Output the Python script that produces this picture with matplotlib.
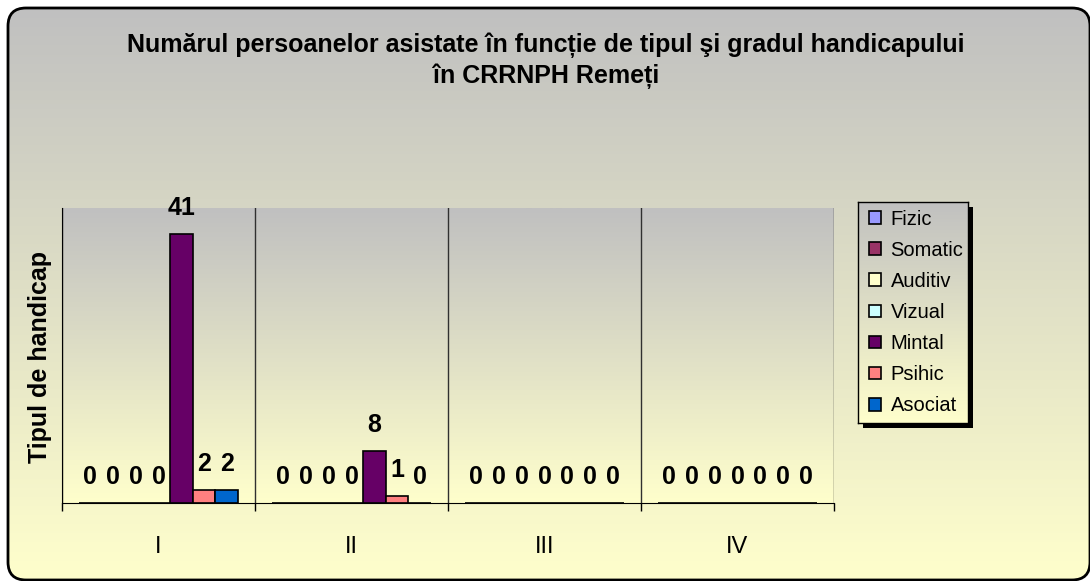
import numpy as np
import matplotlib
matplotlib.use("Agg")
import matplotlib.pyplot as plt
from matplotlib.patches import FancyBboxPatch, Rectangle, Patch

plt.rcParams["font.family"] = ["Liberation Sans", "DejaVu Sans"]

categories = ["I", "II", "III", "IV"]
series_names = ["Fizic", "Somatic", "Auditiv", "Vizual", "Mintal", "Psihic", "Asociat"]
fizic = [0, 0, 0, 0]
somatic = [0, 0, 0, 0]
auditiv = [0, 0, 0, 0]
vizual = [0, 0, 0, 0]
mintal = [41, 8, 0, 0]
psihic = [2, 1, 0, 0]
asociat = [2, 0, 0, 0]
series_colors = ["#9999FF", "#993366", "#FFFFCC", "#CCFFFF", "#660066", "#FF8080", "#0066CC"]

title_1 = "Numărul persoanelor asistate în funcție de tipul şi gradul handicapului"
title_2 = "în CRRNPH Remeți"
y_label = "Tipul de handicap"

W, H = 1090, 581


def gradient(top=(192, 192, 192), bottom=(255, 255, 204), n=256):
    t = np.linspace(0, 1, n)[:, None, None]
    top = np.array(top)[None, None, :] / 255
    bottom = np.array(bottom)[None, None, :] / 255
    return top + (bottom - top) * t


fig = plt.figure(figsize=(W / 100, H / 100), dpi=100)
fig.patch.set_facecolor("white")

# background with rounded border
bg = fig.add_axes([0, 0, 1, 1])
bg.set_xlim(0, W)
bg.set_ylim(H, 0)
bg.axis("off")
box = FancyBboxPatch((8, 8), 1082, 572, boxstyle="round,pad=0,rounding_size=18",
                     facecolor="none", edgecolor="black", linewidth=2, zorder=3)
bg.add_patch(box)
img = bg.imshow(gradient(), extent=[8, 1090, 580, 8], aspect="auto", zorder=1)
img.set_clip_path(box)
# legend shadow
bg.add_patch(Rectangle((863, 207), 110, 221, facecolor="black", edgecolor="none", zorder=2))

# main plot area
ax = fig.add_axes([62 / W, 1 - 503 / H, (834 - 62) / W, (503 - 208) / H])
ax.patch.set_alpha(0)
ax.imshow(gradient(), extent=[-0.5, 3.5, 0, 45], aspect="auto", zorder=0)

values = [fizic, somatic, auditiv, vizual, mintal, psihic, asociat]
n = len(series_names)
w = 1 / (n + 1.5)
x = np.arange(len(categories))
for i, (name, vals, col) in enumerate(zip(series_names, values, series_colors)):
    xs = x + (i - (n - 1) / 2) * w
    ax.bar(xs, vals, width=w, color=col, edgecolor="black", linewidth=1.2, zorder=3, label=name)
    for xi, v in zip(xs, vals):
        ax.annotate(str(v), (xi, v), xytext=(0, 26), textcoords="offset pixels",
                    ha="center", va="center", fontsize=18, fontweight="bold", zorder=4)

ax.set_xlim(-0.5, 3.5)
ax.set_ylim(0, 45)
ax.set_yticks([])
ax.set_xticks(x)
ax.set_xticklabels(categories, fontsize=17)
ax.tick_params(axis="x", which="major", length=0, pad=24)
ax.set_xticks(np.arange(-0.5, 4, 1), minor=True)
ax.tick_params(axis="x", which="minor", length=6, width=1, color="black", direction="out")
ax.grid(axis="x", which="minor", color="#303030", linewidth=1, zorder=1)
ax.set_axisbelow(True)
for s in ["top", "right"]:
    ax.spines[s].set_visible(False)
ax.spines["left"].set_color("black")
ax.spines["bottom"].set_color("black")
ax.spines["bottom"].set_zorder(5)

# titles
fig.text(546 / W, 1 - 45 / H, title_1, ha="center", va="center", fontsize=18, fontweight="bold")
fig.text(546 / W, 1 - 76 / H, title_2, ha="center", va="center", fontsize=18, fontweight="bold")
fig.text(40 / W, 1 - 357 / H, y_label, ha="center", va="center", rotation=90,
         fontsize=18, fontweight="bold")

# legend box
lax = fig.add_axes([858 / W, 1 - 423 / H, 110 / W, 221 / H])
lax.imshow(gradient(), extent=[0, 1, 0, 1], aspect="auto")
lax.set_xticks([])
lax.set_yticks([])
for s in lax.spines.values():
    s.set_color("black")
    s.set_linewidth(1)
handles = [Patch(facecolor=c, edgecolor="black", linewidth=1.2) for c in series_colors]
lax.legend(handles, series_names, loc="center left", frameon=False, fontsize=14.5,
           handlelength=0.6, handleheight=0.6, handletextpad=0.45, labelspacing=0.6,
           borderaxespad=0, bbox_to_anchor=(0.03, 0.5))

fig.savefig("out.png", dpi=100)
